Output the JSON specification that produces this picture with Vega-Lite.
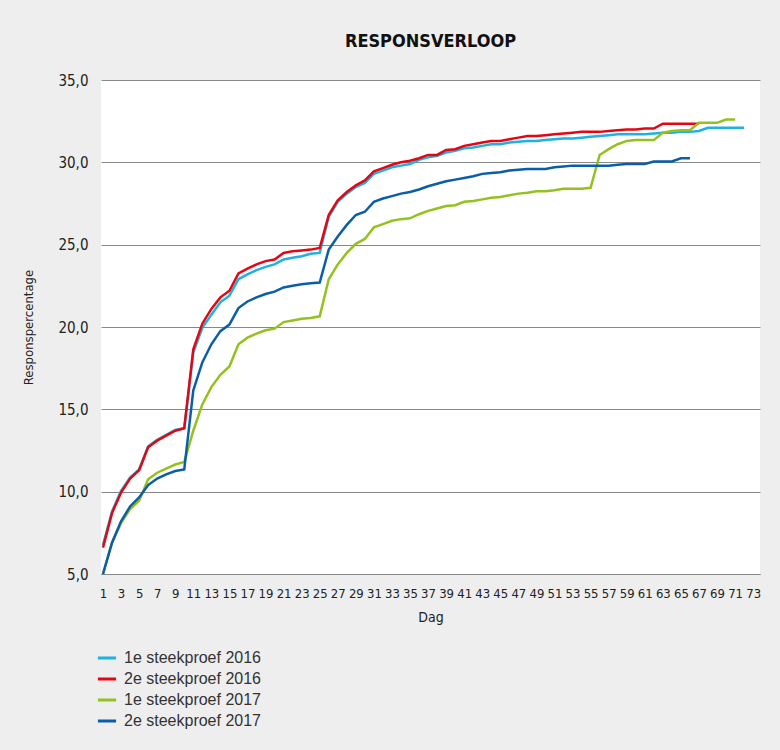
{
"$schema": "https://vega.github.io/schema/vega-lite/v6.json",
"width": 659,
"height": 494,
"autosize": {"type": "none"},
"padding": {"left": 101, "top": 80, "right": 20, "bottom": 176},
"background": "#eeeeee",
"title": {"text": "RESPONSVERLOOP", "anchor": "middle", "fontSize": 18, "font": "Liberation Sans Narrow, DejaVu Sans Condensed, sans-serif", "fontWeight": "bold", "color": "#111111", "offset": 22},
"config": {
  "view": {"fill": "white", "stroke": null},
  "axis": {"labelColor": "#222222", "titleColor": "#222222", "labelFont": "Liberation Sans Narrow, DejaVu Sans Condensed, sans-serif", "titleFont": "Liberation Sans Narrow, DejaVu Sans Condensed, sans-serif", "titleFontWeight": "normal"}
},
"data": {"values": [
{"dag":1,"serie":"1e steekproef 2016","pct":6.75},{"dag":2,"serie":"1e steekproef 2016","pct":8.8},{"dag":3,"serie":"1e steekproef 2016","pct":10.05},{"dag":4,"serie":"1e steekproef 2016","pct":10.85},{"dag":5,"serie":"1e steekproef 2016","pct":11.35},{"dag":6,"serie":"1e steekproef 2016","pct":12.75},{"dag":7,"serie":"1e steekproef 2016","pct":13.15},{"dag":8,"serie":"1e steekproef 2016","pct":13.45},{"dag":9,"serie":"1e steekproef 2016","pct":13.75},{"dag":10,"serie":"1e steekproef 2016","pct":13.85},
{"dag":11,"serie":"1e steekproef 2016","pct":18.45},{"dag":12,"serie":"1e steekproef 2016","pct":19.95},{"dag":13,"serie":"1e steekproef 2016","pct":20.75},{"dag":14,"serie":"1e steekproef 2016","pct":21.5},{"dag":15,"serie":"1e steekproef 2016","pct":21.9},{"dag":16,"serie":"1e steekproef 2016","pct":22.9},{"dag":17,"serie":"1e steekproef 2016","pct":23.2},{"dag":18,"serie":"1e steekproef 2016","pct":23.45},{"dag":19,"serie":"1e steekproef 2016","pct":23.65},{"dag":20,"serie":"1e steekproef 2016","pct":23.8},
{"dag":21,"serie":"1e steekproef 2016","pct":24.1},{"dag":22,"serie":"1e steekproef 2016","pct":24.2},{"dag":23,"serie":"1e steekproef 2016","pct":24.3},{"dag":24,"serie":"1e steekproef 2016","pct":24.45},{"dag":25,"serie":"1e steekproef 2016","pct":24.5},{"dag":26,"serie":"1e steekproef 2016","pct":26.7},{"dag":27,"serie":"1e steekproef 2016","pct":27.6},{"dag":28,"serie":"1e steekproef 2016","pct":28.1},{"dag":29,"serie":"1e steekproef 2016","pct":28.5},{"dag":30,"serie":"1e steekproef 2016","pct":28.75},
{"dag":31,"serie":"1e steekproef 2016","pct":29.3},{"dag":32,"serie":"1e steekproef 2016","pct":29.5},{"dag":33,"serie":"1e steekproef 2016","pct":29.7},{"dag":34,"serie":"1e steekproef 2016","pct":29.8},{"dag":35,"serie":"1e steekproef 2016","pct":29.9},{"dag":36,"serie":"1e steekproef 2016","pct":30.15},{"dag":37,"serie":"1e steekproef 2016","pct":30.3},{"dag":38,"serie":"1e steekproef 2016","pct":30.4},{"dag":39,"serie":"1e steekproef 2016","pct":30.6},{"dag":40,"serie":"1e steekproef 2016","pct":30.7},
{"dag":41,"serie":"1e steekproef 2016","pct":30.85},{"dag":42,"serie":"1e steekproef 2016","pct":30.9},{"dag":43,"serie":"1e steekproef 2016","pct":31.0},{"dag":44,"serie":"1e steekproef 2016","pct":31.1},{"dag":45,"serie":"1e steekproef 2016","pct":31.1},{"dag":46,"serie":"1e steekproef 2016","pct":31.2},{"dag":47,"serie":"1e steekproef 2016","pct":31.25},{"dag":48,"serie":"1e steekproef 2016","pct":31.3},{"dag":49,"serie":"1e steekproef 2016","pct":31.3},{"dag":50,"serie":"1e steekproef 2016","pct":31.35},
{"dag":51,"serie":"1e steekproef 2016","pct":31.4},{"dag":52,"serie":"1e steekproef 2016","pct":31.45},{"dag":53,"serie":"1e steekproef 2016","pct":31.45},{"dag":54,"serie":"1e steekproef 2016","pct":31.5},{"dag":55,"serie":"1e steekproef 2016","pct":31.55},{"dag":56,"serie":"1e steekproef 2016","pct":31.6},{"dag":57,"serie":"1e steekproef 2016","pct":31.65},{"dag":58,"serie":"1e steekproef 2016","pct":31.7},{"dag":59,"serie":"1e steekproef 2016","pct":31.7},{"dag":60,"serie":"1e steekproef 2016","pct":31.7},
{"dag":61,"serie":"1e steekproef 2016","pct":31.7},{"dag":62,"serie":"1e steekproef 2016","pct":31.75},{"dag":63,"serie":"1e steekproef 2016","pct":31.8},{"dag":64,"serie":"1e steekproef 2016","pct":31.8},{"dag":65,"serie":"1e steekproef 2016","pct":31.85},{"dag":66,"serie":"1e steekproef 2016","pct":31.85},{"dag":67,"serie":"1e steekproef 2016","pct":31.9},{"dag":68,"serie":"1e steekproef 2016","pct":32.1},{"dag":69,"serie":"1e steekproef 2016","pct":32.1},{"dag":70,"serie":"1e steekproef 2016","pct":32.1},
{"dag":71,"serie":"1e steekproef 2016","pct":32.1},{"dag":72,"serie":"1e steekproef 2016","pct":32.1},
{"dag":1,"serie":"2e steekproef 2016","pct":6.6},{"dag":2,"serie":"2e steekproef 2016","pct":8.7},{"dag":3,"serie":"2e steekproef 2016","pct":9.95},{"dag":4,"serie":"2e steekproef 2016","pct":10.8},{"dag":5,"serie":"2e steekproef 2016","pct":11.3},{"dag":6,"serie":"2e steekproef 2016","pct":12.7},{"dag":7,"serie":"2e steekproef 2016","pct":13.1},{"dag":8,"serie":"2e steekproef 2016","pct":13.4},{"dag":9,"serie":"2e steekproef 2016","pct":13.7},{"dag":10,"serie":"2e steekproef 2016","pct":13.85},
{"dag":11,"serie":"2e steekproef 2016","pct":18.65},{"dag":12,"serie":"2e steekproef 2016","pct":20.2},{"dag":13,"serie":"2e steekproef 2016","pct":21.1},{"dag":14,"serie":"2e steekproef 2016","pct":21.8},{"dag":15,"serie":"2e steekproef 2016","pct":22.2},{"dag":16,"serie":"2e steekproef 2016","pct":23.25},{"dag":17,"serie":"2e steekproef 2016","pct":23.55},{"dag":18,"serie":"2e steekproef 2016","pct":23.8},{"dag":19,"serie":"2e steekproef 2016","pct":24.0},{"dag":20,"serie":"2e steekproef 2016","pct":24.1},
{"dag":21,"serie":"2e steekproef 2016","pct":24.5},{"dag":22,"serie":"2e steekproef 2016","pct":24.6},{"dag":23,"serie":"2e steekproef 2016","pct":24.65},{"dag":24,"serie":"2e steekproef 2016","pct":24.7},{"dag":25,"serie":"2e steekproef 2016","pct":24.8},{"dag":26,"serie":"2e steekproef 2016","pct":26.8},{"dag":27,"serie":"2e steekproef 2016","pct":27.7},{"dag":28,"serie":"2e steekproef 2016","pct":28.2},{"dag":29,"serie":"2e steekproef 2016","pct":28.6},{"dag":30,"serie":"2e steekproef 2016","pct":28.9},
{"dag":31,"serie":"2e steekproef 2016","pct":29.45},{"dag":32,"serie":"2e steekproef 2016","pct":29.65},{"dag":33,"serie":"2e steekproef 2016","pct":29.85},{"dag":34,"serie":"2e steekproef 2016","pct":30.0},{"dag":35,"serie":"2e steekproef 2016","pct":30.1},{"dag":36,"serie":"2e steekproef 2016","pct":30.25},{"dag":37,"serie":"2e steekproef 2016","pct":30.45},{"dag":38,"serie":"2e steekproef 2016","pct":30.45},{"dag":39,"serie":"2e steekproef 2016","pct":30.75},{"dag":40,"serie":"2e steekproef 2016","pct":30.8},
{"dag":41,"serie":"2e steekproef 2016","pct":31.0},{"dag":42,"serie":"2e steekproef 2016","pct":31.1},{"dag":43,"serie":"2e steekproef 2016","pct":31.2},{"dag":44,"serie":"2e steekproef 2016","pct":31.3},{"dag":45,"serie":"2e steekproef 2016","pct":31.3},{"dag":46,"serie":"2e steekproef 2016","pct":31.4},{"dag":47,"serie":"2e steekproef 2016","pct":31.5},{"dag":48,"serie":"2e steekproef 2016","pct":31.6},{"dag":49,"serie":"2e steekproef 2016","pct":31.6},{"dag":50,"serie":"2e steekproef 2016","pct":31.65},
{"dag":51,"serie":"2e steekproef 2016","pct":31.7},{"dag":52,"serie":"2e steekproef 2016","pct":31.75},{"dag":53,"serie":"2e steekproef 2016","pct":31.8},{"dag":54,"serie":"2e steekproef 2016","pct":31.85},{"dag":55,"serie":"2e steekproef 2016","pct":31.85},{"dag":56,"serie":"2e steekproef 2016","pct":31.85},{"dag":57,"serie":"2e steekproef 2016","pct":31.9},{"dag":58,"serie":"2e steekproef 2016","pct":31.95},{"dag":59,"serie":"2e steekproef 2016","pct":32.0},{"dag":60,"serie":"2e steekproef 2016","pct":32.0},
{"dag":61,"serie":"2e steekproef 2016","pct":32.05},{"dag":62,"serie":"2e steekproef 2016","pct":32.05},{"dag":63,"serie":"2e steekproef 2016","pct":32.35},{"dag":64,"serie":"2e steekproef 2016","pct":32.35},{"dag":65,"serie":"2e steekproef 2016","pct":32.35},{"dag":66,"serie":"2e steekproef 2016","pct":32.35},{"dag":67,"serie":"2e steekproef 2016","pct":32.35},
{"dag":1,"serie":"1e steekproef 2017","pct":5.0},{"dag":2,"serie":"1e steekproef 2017","pct":6.9},{"dag":3,"serie":"1e steekproef 2017","pct":8.1},{"dag":4,"serie":"1e steekproef 2017","pct":8.95},{"dag":5,"serie":"1e steekproef 2017","pct":9.45},{"dag":6,"serie":"1e steekproef 2017","pct":10.75},{"dag":7,"serie":"1e steekproef 2017","pct":11.15},{"dag":8,"serie":"1e steekproef 2017","pct":11.4},{"dag":9,"serie":"1e steekproef 2017","pct":11.65},{"dag":10,"serie":"1e steekproef 2017","pct":11.8},
{"dag":11,"serie":"1e steekproef 2017","pct":13.7},{"dag":12,"serie":"1e steekproef 2017","pct":15.3},{"dag":13,"serie":"1e steekproef 2017","pct":16.35},{"dag":14,"serie":"1e steekproef 2017","pct":17.1},{"dag":15,"serie":"1e steekproef 2017","pct":17.6},{"dag":16,"serie":"1e steekproef 2017","pct":18.95},{"dag":17,"serie":"1e steekproef 2017","pct":19.35},{"dag":18,"serie":"1e steekproef 2017","pct":19.6},{"dag":19,"serie":"1e steekproef 2017","pct":19.8},{"dag":20,"serie":"1e steekproef 2017","pct":19.9},
{"dag":21,"serie":"1e steekproef 2017","pct":20.3},{"dag":22,"serie":"1e steekproef 2017","pct":20.4},{"dag":23,"serie":"1e steekproef 2017","pct":20.5},{"dag":24,"serie":"1e steekproef 2017","pct":20.55},{"dag":25,"serie":"1e steekproef 2017","pct":20.65},{"dag":26,"serie":"1e steekproef 2017","pct":22.9},{"dag":27,"serie":"1e steekproef 2017","pct":23.8},{"dag":28,"serie":"1e steekproef 2017","pct":24.5},{"dag":29,"serie":"1e steekproef 2017","pct":25.05},{"dag":30,"serie":"1e steekproef 2017","pct":25.35},
{"dag":31,"serie":"1e steekproef 2017","pct":26.05},{"dag":32,"serie":"1e steekproef 2017","pct":26.25},{"dag":33,"serie":"1e steekproef 2017","pct":26.45},{"dag":34,"serie":"1e steekproef 2017","pct":26.55},{"dag":35,"serie":"1e steekproef 2017","pct":26.6},{"dag":36,"serie":"1e steekproef 2017","pct":26.85},{"dag":37,"serie":"1e steekproef 2017","pct":27.05},{"dag":38,"serie":"1e steekproef 2017","pct":27.2},{"dag":39,"serie":"1e steekproef 2017","pct":27.35},{"dag":40,"serie":"1e steekproef 2017","pct":27.4},
{"dag":41,"serie":"1e steekproef 2017","pct":27.6},{"dag":42,"serie":"1e steekproef 2017","pct":27.65},{"dag":43,"serie":"1e steekproef 2017","pct":27.75},{"dag":44,"serie":"1e steekproef 2017","pct":27.85},{"dag":45,"serie":"1e steekproef 2017","pct":27.9},{"dag":46,"serie":"1e steekproef 2017","pct":28.0},{"dag":47,"serie":"1e steekproef 2017","pct":28.1},{"dag":48,"serie":"1e steekproef 2017","pct":28.15},{"dag":49,"serie":"1e steekproef 2017","pct":28.25},{"dag":50,"serie":"1e steekproef 2017","pct":28.25},
{"dag":51,"serie":"1e steekproef 2017","pct":28.3},{"dag":52,"serie":"1e steekproef 2017","pct":28.4},{"dag":53,"serie":"1e steekproef 2017","pct":28.4},{"dag":54,"serie":"1e steekproef 2017","pct":28.4},{"dag":55,"serie":"1e steekproef 2017","pct":28.45},{"dag":56,"serie":"1e steekproef 2017","pct":30.45},{"dag":57,"serie":"1e steekproef 2017","pct":30.8},{"dag":58,"serie":"1e steekproef 2017","pct":31.1},{"dag":59,"serie":"1e steekproef 2017","pct":31.3},{"dag":60,"serie":"1e steekproef 2017","pct":31.35},
{"dag":61,"serie":"1e steekproef 2017","pct":31.35},{"dag":62,"serie":"1e steekproef 2017","pct":31.35},{"dag":63,"serie":"1e steekproef 2017","pct":31.8},{"dag":64,"serie":"1e steekproef 2017","pct":31.9},{"dag":65,"serie":"1e steekproef 2017","pct":31.95},{"dag":66,"serie":"1e steekproef 2017","pct":31.95},{"dag":67,"serie":"1e steekproef 2017","pct":32.4},{"dag":68,"serie":"1e steekproef 2017","pct":32.4},{"dag":69,"serie":"1e steekproef 2017","pct":32.4},{"dag":70,"serie":"1e steekproef 2017","pct":32.6},
{"dag":71,"serie":"1e steekproef 2017","pct":32.6},
{"dag":1,"serie":"2e steekproef 2017","pct":5.0},{"dag":2,"serie":"2e steekproef 2017","pct":6.9},{"dag":3,"serie":"2e steekproef 2017","pct":8.2},{"dag":4,"serie":"2e steekproef 2017","pct":9.1},{"dag":5,"serie":"2e steekproef 2017","pct":9.65},{"dag":6,"serie":"2e steekproef 2017","pct":10.4},{"dag":7,"serie":"2e steekproef 2017","pct":10.8},{"dag":8,"serie":"2e steekproef 2017","pct":11.05},{"dag":9,"serie":"2e steekproef 2017","pct":11.25},{"dag":10,"serie":"2e steekproef 2017","pct":11.35},
{"dag":11,"serie":"2e steekproef 2017","pct":16.15},{"dag":12,"serie":"2e steekproef 2017","pct":17.85},{"dag":13,"serie":"2e steekproef 2017","pct":18.95},{"dag":14,"serie":"2e steekproef 2017","pct":19.75},{"dag":15,"serie":"2e steekproef 2017","pct":20.15},{"dag":16,"serie":"2e steekproef 2017","pct":21.15},{"dag":17,"serie":"2e steekproef 2017","pct":21.55},{"dag":18,"serie":"2e steekproef 2017","pct":21.8},{"dag":19,"serie":"2e steekproef 2017","pct":22.0},{"dag":20,"serie":"2e steekproef 2017","pct":22.15},
{"dag":21,"serie":"2e steekproef 2017","pct":22.4},{"dag":22,"serie":"2e steekproef 2017","pct":22.5},{"dag":23,"serie":"2e steekproef 2017","pct":22.6},{"dag":24,"serie":"2e steekproef 2017","pct":22.65},{"dag":25,"serie":"2e steekproef 2017","pct":22.7},{"dag":26,"serie":"2e steekproef 2017","pct":24.7},{"dag":27,"serie":"2e steekproef 2017","pct":25.5},{"dag":28,"serie":"2e steekproef 2017","pct":26.2},{"dag":29,"serie":"2e steekproef 2017","pct":26.8},{"dag":30,"serie":"2e steekproef 2017","pct":27.0},
{"dag":31,"serie":"2e steekproef 2017","pct":27.6},{"dag":32,"serie":"2e steekproef 2017","pct":27.8},{"dag":33,"serie":"2e steekproef 2017","pct":27.95},{"dag":34,"serie":"2e steekproef 2017","pct":28.1},{"dag":35,"serie":"2e steekproef 2017","pct":28.2},{"dag":36,"serie":"2e steekproef 2017","pct":28.35},{"dag":37,"serie":"2e steekproef 2017","pct":28.55},{"dag":38,"serie":"2e steekproef 2017","pct":28.7},{"dag":39,"serie":"2e steekproef 2017","pct":28.85},{"dag":40,"serie":"2e steekproef 2017","pct":28.95},
{"dag":41,"serie":"2e steekproef 2017","pct":29.05},{"dag":42,"serie":"2e steekproef 2017","pct":29.15},{"dag":43,"serie":"2e steekproef 2017","pct":29.3},{"dag":44,"serie":"2e steekproef 2017","pct":29.35},{"dag":45,"serie":"2e steekproef 2017","pct":29.4},{"dag":46,"serie":"2e steekproef 2017","pct":29.5},{"dag":47,"serie":"2e steekproef 2017","pct":29.55},{"dag":48,"serie":"2e steekproef 2017","pct":29.6},{"dag":49,"serie":"2e steekproef 2017","pct":29.6},{"dag":50,"serie":"2e steekproef 2017","pct":29.6},
{"dag":51,"serie":"2e steekproef 2017","pct":29.7},{"dag":52,"serie":"2e steekproef 2017","pct":29.75},{"dag":53,"serie":"2e steekproef 2017","pct":29.8},{"dag":54,"serie":"2e steekproef 2017","pct":29.8},{"dag":55,"serie":"2e steekproef 2017","pct":29.8},{"dag":56,"serie":"2e steekproef 2017","pct":29.8},{"dag":57,"serie":"2e steekproef 2017","pct":29.8},{"dag":58,"serie":"2e steekproef 2017","pct":29.85},{"dag":59,"serie":"2e steekproef 2017","pct":29.9},{"dag":60,"serie":"2e steekproef 2017","pct":29.9},
{"dag":61,"serie":"2e steekproef 2017","pct":29.9},{"dag":62,"serie":"2e steekproef 2017","pct":30.05},{"dag":63,"serie":"2e steekproef 2017","pct":30.05},{"dag":64,"serie":"2e steekproef 2017","pct":30.05},{"dag":65,"serie":"2e steekproef 2017","pct":30.25},{"dag":66,"serie":"2e steekproef 2017","pct":30.25}
]},
"mark": {"type": "line", "strokeWidth": 2.5},
"encoding": {
  "x": {"field": "dag", "type": "quantitative",
    "scale": {"domain": [0.78, 73.76], "nice": false, "zero": false},
    "axis": {"values": [1,3,5,7,9,11,13,15,17,19,21,23,25,27,29,31,33,35,37,39,41,43,45,47,49,51,53,55,57,59,61,63,65,67,69,71,73],
      "title": "Dag", "grid": false, "ticks": false, "domain": true, "domainColor": "#888888", "domainWidth": 1,
      "labelFontSize": 13, "labelOverlap": false, "labelPadding": 13, "titleFontSize": 14, "titlePadding": 10}},
  "y": {"field": "pct", "type": "quantitative",
    "scale": {"domain": [5, 35], "nice": false, "zero": false},
    "axis": {"values": [5,10,15,20,25,30,35], "labelExpr": "replace(format(datum.value, '.1f'), '.', ',')",
      "title": "Responspercentage", "grid": true, "gridColor": "#888888", "gridWidth": 1, "domain": false, "ticks": false,
      "labelFontSize": 15, "labelPadding": 13, "titleFontSize": 13, "titlePadding": 22}},
  "color": {"field": "serie", "type": "nominal",
    "scale": {"domain": ["1e steekproef 2016", "2e steekproef 2016", "1e steekproef 2017", "2e steekproef 2017"],
      "range": ["#1fb1e3", "#e30613", "#95c11f", "#0a5ea8"]},
    "legend": {"title": null, "orient": "none", "legendX": -5, "legendY": 567, "direction": "vertical",
      "symbolType": "stroke", "symbolStrokeWidth": 3, "symbolSize": 330, "labelFontSize": 16, "labelFont": "Liberation Sans, Arial, sans-serif",
      "labelColor": "#333333", "labelOffset": 6, "rowPadding": 2, "labelLimit": 300}}
}
}
